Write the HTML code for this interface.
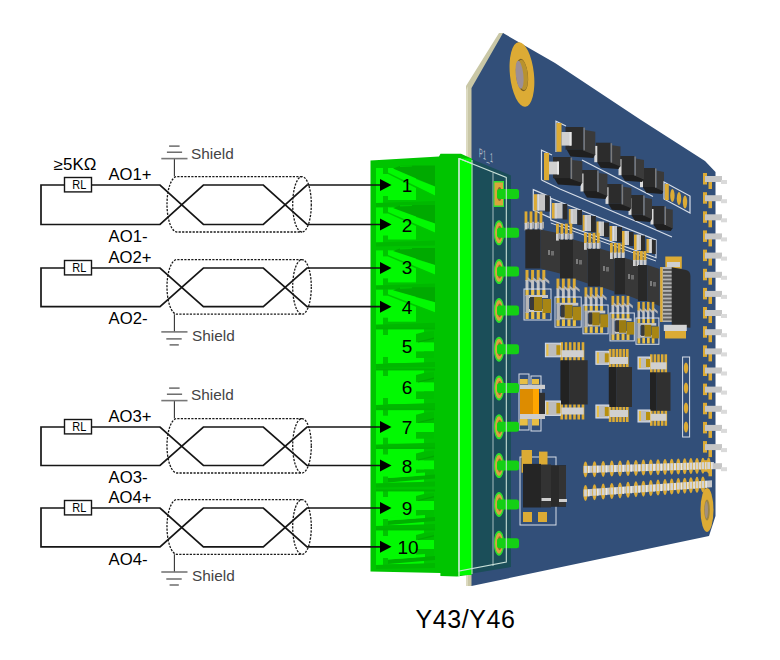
<!DOCTYPE html>
<html><head><meta charset="utf-8"><style>
html,body{margin:0;padding:0;background:#fff;}
svg{display:block;font-family:"Liberation Sans", sans-serif;}
</style></head><body>
<svg width="780" height="660" viewBox="0 0 780 660">
<rect width="780" height="660" fill="#fff"/>
<polygon points="466.0,86.0 499.0,33.0 504.0,33.0 472.0,88.0 472.0,586.0 466.0,586.0" fill="#c9c7a6" />
<polygon points="466.0,90.0 468.0,86.0 468.0,586.0 466.0,586.0" fill="#dcdac0" />
<polygon points="471.5,88.0 503.0,33.0 555.0,63.0 641.0,120.0 705.0,161.0 715.5,172.0 715.5,516.0 709.0,536.0 471.5,586.0" fill="#324f79" />
<g transform="rotate(-6 522 75)">
<ellipse cx="522.0" cy="74.5" rx="12" ry="32.5" fill="#dcab35"/>
<ellipse cx="522.0" cy="75.0" rx="6.0" ry="16.2" fill="#7a5e22"/>
<ellipse cx="522.6" cy="75.0" rx="5.2" ry="15.2" fill="#b8922e"/>
<ellipse cx="519.6" cy="74.5" rx="3.8" ry="14.0" fill="#9b8f97"/>
</g>
<ellipse cx="707.0" cy="510.0" rx="6.5" ry="22" fill="#dcab35"/>
<ellipse cx="707.0" cy="510.0" rx="2.8" ry="10.5" fill="#9a8444"/>
<ellipse cx="706.4" cy="510.0" rx="1.6" ry="8.5" fill="#a09080"/>
<rect x="703.0" y="173.0" width="4.0" height="11.5" fill="#dcab35" />
<rect x="708.5" y="177.5" width="3.5" height="11.5" fill="#dcab35" />
<rect x="705.0" y="176.0" width="17.0" height="6.0" fill="#c6c6c6" />
<rect x="721.0" y="180.0" width="6.0" height="4.0" fill="#dadada" />
<rect x="703.0" y="192.2" width="4.0" height="11.5" fill="#dcab35" />
<rect x="708.5" y="196.7" width="3.5" height="11.5" fill="#dcab35" />
<rect x="705.0" y="195.2" width="17.0" height="6.0" fill="#c6c6c6" />
<rect x="721.0" y="199.2" width="6.0" height="4.0" fill="#dadada" />
<rect x="703.0" y="211.3" width="4.0" height="11.5" fill="#dcab35" />
<rect x="708.5" y="215.8" width="3.5" height="11.5" fill="#dcab35" />
<rect x="705.0" y="214.3" width="17.0" height="6.0" fill="#c6c6c6" />
<rect x="721.0" y="218.3" width="6.0" height="4.0" fill="#dadada" />
<rect x="703.0" y="230.4" width="4.0" height="11.5" fill="#dcab35" />
<rect x="708.5" y="234.9" width="3.5" height="11.5" fill="#dcab35" />
<rect x="705.0" y="233.4" width="17.0" height="6.0" fill="#c6c6c6" />
<rect x="721.0" y="237.4" width="6.0" height="4.0" fill="#dadada" />
<rect x="703.0" y="249.6" width="4.0" height="11.5" fill="#dcab35" />
<rect x="708.5" y="254.1" width="3.5" height="11.5" fill="#dcab35" />
<rect x="705.0" y="252.6" width="17.0" height="6.0" fill="#c6c6c6" />
<rect x="721.0" y="256.6" width="6.0" height="4.0" fill="#dadada" />
<rect x="703.0" y="268.8" width="4.0" height="11.5" fill="#dcab35" />
<rect x="708.5" y="273.2" width="3.5" height="11.5" fill="#dcab35" />
<rect x="705.0" y="271.8" width="17.0" height="6.0" fill="#c6c6c6" />
<rect x="721.0" y="275.8" width="6.0" height="4.0" fill="#dadada" />
<rect x="703.0" y="287.9" width="4.0" height="11.5" fill="#dcab35" />
<rect x="708.5" y="292.4" width="3.5" height="11.5" fill="#dcab35" />
<rect x="705.0" y="290.9" width="17.0" height="6.0" fill="#c6c6c6" />
<rect x="721.0" y="294.9" width="6.0" height="4.0" fill="#dadada" />
<rect x="703.0" y="307.0" width="4.0" height="11.5" fill="#dcab35" />
<rect x="708.5" y="311.5" width="3.5" height="11.5" fill="#dcab35" />
<rect x="705.0" y="310.0" width="17.0" height="6.0" fill="#c6c6c6" />
<rect x="721.0" y="314.0" width="6.0" height="4.0" fill="#dadada" />
<rect x="703.0" y="326.2" width="4.0" height="11.5" fill="#dcab35" />
<rect x="708.5" y="330.7" width="3.5" height="11.5" fill="#dcab35" />
<rect x="705.0" y="329.2" width="17.0" height="6.0" fill="#c6c6c6" />
<rect x="721.0" y="333.2" width="6.0" height="4.0" fill="#dadada" />
<rect x="703.0" y="345.4" width="4.0" height="11.5" fill="#dcab35" />
<rect x="708.5" y="349.9" width="3.5" height="11.5" fill="#dcab35" />
<rect x="705.0" y="348.4" width="17.0" height="6.0" fill="#c6c6c6" />
<rect x="721.0" y="352.4" width="6.0" height="4.0" fill="#dadada" />
<rect x="703.0" y="364.5" width="4.0" height="11.5" fill="#dcab35" />
<rect x="708.5" y="369.0" width="3.5" height="11.5" fill="#dcab35" />
<rect x="705.0" y="367.5" width="17.0" height="6.0" fill="#c6c6c6" />
<rect x="721.0" y="371.5" width="6.0" height="4.0" fill="#dadada" />
<rect x="703.0" y="383.6" width="4.0" height="11.5" fill="#dcab35" />
<rect x="708.5" y="388.1" width="3.5" height="11.5" fill="#dcab35" />
<rect x="705.0" y="386.6" width="17.0" height="6.0" fill="#c6c6c6" />
<rect x="721.0" y="390.6" width="6.0" height="4.0" fill="#dadada" />
<rect x="703.0" y="402.8" width="4.0" height="11.5" fill="#dcab35" />
<rect x="708.5" y="407.3" width="3.5" height="11.5" fill="#dcab35" />
<rect x="705.0" y="405.8" width="17.0" height="6.0" fill="#c6c6c6" />
<rect x="721.0" y="409.8" width="6.0" height="4.0" fill="#dadada" />
<rect x="703.0" y="421.9" width="4.0" height="11.5" fill="#dcab35" />
<rect x="708.5" y="426.4" width="3.5" height="11.5" fill="#dcab35" />
<rect x="705.0" y="424.9" width="17.0" height="6.0" fill="#c6c6c6" />
<rect x="721.0" y="428.9" width="6.0" height="4.0" fill="#dadada" />
<rect x="703.0" y="441.1" width="4.0" height="11.5" fill="#dcab35" />
<rect x="708.5" y="445.6" width="3.5" height="11.5" fill="#dcab35" />
<rect x="705.0" y="444.1" width="17.0" height="6.0" fill="#c6c6c6" />
<rect x="721.0" y="448.1" width="6.0" height="4.0" fill="#dadada" />
<rect x="703.0" y="460.2" width="4.0" height="11.5" fill="#dcab35" />
<rect x="708.5" y="464.8" width="3.5" height="11.5" fill="#dcab35" />
<rect x="705.0" y="463.2" width="17.0" height="6.0" fill="#c6c6c6" />
<rect x="721.0" y="467.2" width="6.0" height="4.0" fill="#dadada" />
<polyline points="556.0,152.0 556.0,121.3 566.0,126.0" fill="none" stroke="#d7dee8" stroke-width="1.2" />
<polyline points="582.0,160.0 653.0,196.5" fill="none" stroke="#d7dee8" stroke-width="1.2" />
<polyline points="541.5,180.0 541.5,150.3 552.0,155.0" fill="none" stroke="#d7dee8" stroke-width="1.2" />
<polyline points="541.5,180.0 560.0,189.0 640.0,223.0 672.0,237.0" fill="none" stroke="#d7dee8" stroke-width="1.2" />
<rect x="556.5" y="123.0" width="5.0" height="28.8" fill="#dcab35" />
<polygon points="642.5,186.7 655.0,186.7 664.0,190.9 662.0,194.0 646.5,192.7" fill="#1f1f1f" />
<rect x="641.5" y="168.0" width="13.5" height="19.0" fill="#2c2c2c" />
<polygon points="656.5,170.6 664.0,171.9 664.0,191.4 656.5,188.3" fill="#3a3a3a" />
<rect x="655.0" y="168.5" width="1.5" height="19.2" fill="#7a7a7a" />
<rect x="640.0" y="171.1" width="3.0" height="16.1" fill="#dadada" />
<polygon points="621.0,174.7 634.4,174.7 644.0,178.9 642.0,182.0 625.0,180.7" fill="#1f1f1f" />
<rect x="620.0" y="156.0" width="14.4" height="19.0" fill="#2c2c2c" />
<polygon points="635.9,158.6 644.0,159.9 644.0,179.4 635.9,176.3" fill="#3a3a3a" />
<rect x="634.4" y="156.5" width="1.5" height="19.2" fill="#7a7a7a" />
<rect x="618.5" y="159.1" width="3.0" height="16.1" fill="#dadada" />
<polygon points="596.8,161.6 610.6,161.6 620.5,165.8 618.5,169.0 600.8,167.7" fill="#1f1f1f" />
<rect x="595.8" y="142.7" width="14.8" height="19.2" fill="#2c2c2c" />
<polygon points="612.1,145.3 620.5,146.6 620.5,166.4 612.1,163.2" fill="#3a3a3a" />
<rect x="610.6" y="143.2" width="1.5" height="19.5" fill="#7a7a7a" />
<rect x="594.3" y="145.9" width="3.0" height="16.3" fill="#dadada" />
<polygon points="566.5,149.3 583.4,149.3 595.3,154.3 593.3,158.0 570.5,156.4" fill="#1f1f1f" />
<rect x="565.5" y="127.0" width="17.9" height="22.6" fill="#2c2c2c" />
<polygon points="584.9,130.1 595.3,131.7 595.3,154.9 584.9,151.2" fill="#3a3a3a" />
<rect x="583.4" y="127.6" width="1.5" height="22.9" fill="#7a7a7a" />
<rect x="561.5" y="132.0" width="10.0" height="13.6" fill="#d0d0d0" />
<rect x="569.5" y="132.0" width="2.0" height="13.6" fill="#e6e6e6" />
<rect x="544.0" y="153.0" width="5.0" height="27.2" fill="#dcab35" />
<polygon points="653.0,224.0 664.5,224.0 672.8,228.0 670.8,231.0 657.0,229.8" fill="#1f1f1f" />
<rect x="652.0" y="206.0" width="12.5" height="18.2" fill="#2c2c2c" />
<polygon points="666.0,208.5 672.8,209.8 672.8,228.5 666.0,225.5" fill="#3a3a3a" />
<rect x="664.5" y="206.5" width="1.5" height="18.5" fill="#7a7a7a" />
<rect x="650.5" y="209.0" width="3.0" height="15.5" fill="#dadada" />
<polygon points="631.0,214.4 643.2,214.4 652.0,218.8 650.0,222.0 635.0,220.7" fill="#1f1f1f" />
<rect x="630.0" y="195.0" width="13.2" height="19.7" fill="#2c2c2c" />
<polygon points="644.7,197.7 652.0,199.1 652.0,219.3 644.7,216.1" fill="#3a3a3a" />
<rect x="643.2" y="195.5" width="1.5" height="20.0" fill="#7a7a7a" />
<rect x="628.5" y="198.2" width="3.0" height="16.7" fill="#dadada" />
<polygon points="608.0,203.4 621.6,203.4 631.4,207.8 629.4,211.0 612.0,209.7" fill="#1f1f1f" />
<rect x="607.0" y="184.0" width="14.6" height="19.7" fill="#2c2c2c" />
<polygon points="623.1,186.7 631.4,188.1 631.4,208.3 623.1,205.1" fill="#3a3a3a" />
<rect x="621.6" y="184.5" width="1.5" height="20.0" fill="#7a7a7a" />
<rect x="605.5" y="187.2" width="3.0" height="16.7" fill="#dadada" />
<polygon points="583.0,190.9 597.2,190.9 607.4,195.5 605.4,199.0 587.0,197.6" fill="#1f1f1f" />
<rect x="582.0" y="170.0" width="15.2" height="21.2" fill="#2c2c2c" />
<polygon points="598.7,172.9 607.4,174.3 607.4,196.1 598.7,192.6" fill="#3a3a3a" />
<rect x="597.2" y="170.6" width="1.5" height="21.5" fill="#7a7a7a" />
<rect x="580.5" y="173.5" width="3.0" height="18.0" fill="#dadada" />
<polygon points="554.0,177.9 570.6,177.9 582.3,182.5 580.3,186.0 558.0,184.6" fill="#1f1f1f" />
<rect x="553.0" y="157.0" width="17.6" height="21.2" fill="#2c2c2c" />
<polygon points="572.1,159.9 582.3,161.3 582.3,183.1 572.1,179.6" fill="#3a3a3a" />
<rect x="570.6" y="157.6" width="1.5" height="21.5" fill="#7a7a7a" />
<rect x="549.0" y="161.6" width="10.0" height="12.8" fill="#d0d0d0" />
<rect x="557.0" y="161.6" width="2.0" height="12.8" fill="#e6e6e6" />
<polygon points="664,182 690,196 690,213 664,199" fill="none" stroke="#d7dee8" stroke-width="1.2"/>
<rect x="664.8" y="184.0" width="4.0" height="16.0" fill="#dcab35" />
<ellipse cx="672.4" cy="195.5" rx="2.2" ry="6.5" fill="#dcab35"/>
<ellipse cx="679.0" cy="198.5" rx="2.2" ry="6.5" fill="#dcab35"/>
<ellipse cx="685.0" cy="202.0" rx="2.2" ry="6.5" fill="#dcab35"/>
<polygon points="533.3,189.6 550.3,197 550.3,217.8 533.3,210" fill="none" stroke="#d7dee8" stroke-width="1.2"/>
<rect x="533.8" y="194.2" width="3.6" height="16.4" fill="#dcab35" />
<rect x="536.9" y="194.2" width="8.2" height="16.4" fill="#c6c6c6" />
<rect x="537.9" y="194.2" width="1.0" height="16.4" fill="#dedede" />
<rect x="545.1" y="195.2" width="4.6" height="16.4" fill="#2c2c2c" />
<polygon points="550.8,198.3 656,240 656,257.7 550.8,220" fill="none" stroke="#d7dee8" stroke-width="1.2"/>
<polyline points="550.8,223.0 656.0,261.0" fill="none" stroke="#d7dee8" stroke-width="1" />
<rect x="552.0" y="203.0" width="3.0" height="15.5" fill="#dcab35" />
<rect x="554.5" y="203.0" width="8.2" height="15.5" fill="#c6c6c6" />
<rect x="555.5" y="203.0" width="1.0" height="15.5" fill="#dedede" />
<rect x="562.7" y="204.0" width="4.6" height="15.5" fill="#2c2c2c" />
<rect x="568.8" y="209.0" width="2.2" height="15.0" fill="#dcab35" />
<rect x="570.5" y="209.0" width="6.8" height="15.0" fill="#c6c6c6" />
<rect x="571.5" y="209.0" width="1.0" height="15.0" fill="#dedede" />
<rect x="577.3" y="210.0" width="4.7" height="15.0" fill="#2c2c2c" />
<rect x="582.7" y="215.0" width="2.3" height="16.0" fill="#dcab35" />
<rect x="584.5" y="215.0" width="6.5" height="16.0" fill="#c6c6c6" />
<rect x="585.5" y="215.0" width="1.0" height="16.0" fill="#dedede" />
<rect x="591.0" y="216.0" width="4.8" height="16.0" fill="#2c2c2c" />
<rect x="596.5" y="221.5" width="2.5" height="14.5" fill="#dcab35" />
<rect x="598.5" y="221.5" width="5.5" height="14.5" fill="#c6c6c6" />
<rect x="599.5" y="221.5" width="1.0" height="14.5" fill="#dedede" />
<rect x="604.0" y="222.5" width="5.0" height="14.5" fill="#2c2c2c" />
<rect x="609.6" y="226.0" width="2.9" height="15.0" fill="#dcab35" />
<rect x="612.0" y="226.0" width="5.0" height="15.0" fill="#c6c6c6" />
<rect x="613.0" y="226.0" width="1.0" height="15.0" fill="#dedede" />
<rect x="617.0" y="227.0" width="5.0" height="15.0" fill="#2c2c2c" />
<rect x="622.0" y="231.0" width="3.0" height="14.0" fill="#dcab35" />
<rect x="624.5" y="231.0" width="4.5" height="14.0" fill="#c6c6c6" />
<rect x="625.5" y="231.0" width="1.0" height="14.0" fill="#dedede" />
<rect x="629.0" y="232.0" width="4.5" height="14.0" fill="#2c2c2c" />
<rect x="634.0" y="234.6" width="3.0" height="15.4" fill="#dcab35" />
<rect x="636.5" y="234.6" width="4.5" height="15.4" fill="#c6c6c6" />
<rect x="637.5" y="234.6" width="1.0" height="15.4" fill="#dedede" />
<rect x="641.0" y="235.6" width="4.0" height="15.4" fill="#2c2c2c" />
<rect x="646.5" y="239.0" width="2.8" height="14.0" fill="#dcab35" />
<rect x="648.8" y="239.0" width="3.2" height="14.0" fill="#c6c6c6" />
<rect x="649.8" y="239.0" width="1.0" height="14.0" fill="#dedede" />
<rect x="652.0" y="240.0" width="3.8" height="14.0" fill="#2c2c2c" />
<rect x="524.6" y="211.4" width="2.8" height="12.3" fill="#dcab35" />
<rect x="524.6" y="222.8" width="2.8" height="7.6" fill="#cfcfcf" />
<rect x="527.0" y="221.8" width="2.0" height="6.7" fill="#a9a9a9" />
<rect x="529.6" y="211.4" width="2.8" height="12.3" fill="#dcab35" />
<rect x="529.6" y="222.8" width="2.8" height="7.6" fill="#cfcfcf" />
<rect x="532.0" y="221.8" width="2.0" height="6.7" fill="#a9a9a9" />
<rect x="534.6" y="211.4" width="2.8" height="12.3" fill="#dcab35" />
<rect x="534.6" y="222.8" width="2.8" height="7.6" fill="#cfcfcf" />
<rect x="537.0" y="221.8" width="2.0" height="6.7" fill="#a9a9a9" />
<rect x="539.6" y="211.4" width="2.8" height="12.3" fill="#dcab35" />
<rect x="539.6" y="222.8" width="2.8" height="7.6" fill="#cfcfcf" />
<rect x="542.0" y="221.8" width="2.0" height="6.7" fill="#a9a9a9" />
<rect x="525.3" y="229.4" width="15.3" height="39.1" fill="#282828" />
<polygon points="540.6,229.4 560.0,233.4 560.0,273.5 540.6,268.5" fill="#383838" />
<rect x="556.0" y="223.6" width="2.8" height="11.1" fill="#dcab35" />
<rect x="556.0" y="233.8" width="2.8" height="6.8" fill="#cfcfcf" />
<rect x="558.4" y="232.9" width="1.5" height="6.0" fill="#a9a9a9" />
<rect x="560.5" y="223.6" width="2.8" height="11.1" fill="#dcab35" />
<rect x="560.5" y="233.8" width="2.8" height="6.8" fill="#cfcfcf" />
<rect x="562.9" y="232.9" width="1.5" height="6.0" fill="#a9a9a9" />
<rect x="565.0" y="223.6" width="2.8" height="11.1" fill="#dcab35" />
<rect x="565.0" y="233.8" width="2.8" height="6.8" fill="#cfcfcf" />
<rect x="567.4" y="232.9" width="1.5" height="6.0" fill="#a9a9a9" />
<rect x="569.5" y="223.6" width="2.8" height="11.1" fill="#dcab35" />
<rect x="569.5" y="233.8" width="2.8" height="6.8" fill="#cfcfcf" />
<rect x="571.9" y="232.9" width="1.5" height="6.0" fill="#a9a9a9" />
<rect x="560.0" y="239.6" width="13.0" height="38.9" fill="#282828" />
<polygon points="573.0,239.6 587.8,243.6 587.8,283.5 573.0,278.5" fill="#383838" />
<rect x="584.0" y="232.8" width="2.8" height="11.1" fill="#dcab35" />
<rect x="584.0" y="243.0" width="2.8" height="6.8" fill="#cfcfcf" />
<rect x="586.4" y="242.2" width="1.3" height="6.0" fill="#a9a9a9" />
<rect x="588.3" y="232.8" width="2.8" height="11.1" fill="#dcab35" />
<rect x="588.3" y="243.0" width="2.8" height="6.8" fill="#cfcfcf" />
<rect x="590.7" y="242.2" width="1.3" height="6.0" fill="#a9a9a9" />
<rect x="592.6" y="232.8" width="2.8" height="11.1" fill="#dcab35" />
<rect x="592.6" y="243.0" width="2.8" height="6.8" fill="#cfcfcf" />
<rect x="595.0" y="242.2" width="1.3" height="6.0" fill="#a9a9a9" />
<rect x="596.9" y="232.8" width="2.8" height="11.1" fill="#dcab35" />
<rect x="596.9" y="243.0" width="2.8" height="6.8" fill="#cfcfcf" />
<rect x="599.3" y="242.2" width="1.3" height="6.0" fill="#a9a9a9" />
<rect x="587.8" y="248.8" width="12.2" height="37.7" fill="#282828" />
<polygon points="600.0,248.8 614.5,252.8 614.5,291.5 600.0,286.5" fill="#383838" />
<rect x="610.0" y="243.0" width="2.8" height="10.4" fill="#dcab35" />
<rect x="610.0" y="252.6" width="2.8" height="6.4" fill="#cfcfcf" />
<rect x="612.4" y="251.8" width="0.9" height="5.6" fill="#a9a9a9" />
<rect x="613.9" y="243.0" width="2.8" height="10.4" fill="#dcab35" />
<rect x="613.9" y="252.6" width="2.8" height="6.4" fill="#cfcfcf" />
<rect x="616.3" y="251.8" width="0.9" height="5.6" fill="#a9a9a9" />
<rect x="617.8" y="243.0" width="2.8" height="10.4" fill="#dcab35" />
<rect x="617.8" y="252.6" width="2.8" height="6.4" fill="#cfcfcf" />
<rect x="620.2" y="251.8" width="0.9" height="5.6" fill="#a9a9a9" />
<rect x="621.7" y="243.0" width="2.8" height="10.4" fill="#dcab35" />
<rect x="621.7" y="252.6" width="2.8" height="6.4" fill="#cfcfcf" />
<rect x="624.1" y="251.8" width="0.9" height="5.6" fill="#a9a9a9" />
<rect x="614.5" y="258.0" width="10.5" height="36.5" fill="#282828" />
<polygon points="625.0,258.0 638.0,262.0 638.0,299.5 625.0,294.5" fill="#383838" />
<rect x="633.0" y="251.0" width="2.8" height="9.8" fill="#dcab35" />
<rect x="633.0" y="260.0" width="2.8" height="6.0" fill="#cfcfcf" />
<rect x="635.4" y="259.2" width="0.5" height="5.2" fill="#a9a9a9" />
<rect x="636.5" y="251.0" width="2.8" height="9.8" fill="#dcab35" />
<rect x="636.5" y="260.0" width="2.8" height="6.0" fill="#cfcfcf" />
<rect x="638.9" y="259.2" width="0.5" height="5.2" fill="#a9a9a9" />
<rect x="640.0" y="251.0" width="2.8" height="9.8" fill="#dcab35" />
<rect x="640.0" y="260.0" width="2.8" height="6.0" fill="#cfcfcf" />
<rect x="642.4" y="259.2" width="0.5" height="5.2" fill="#a9a9a9" />
<rect x="643.5" y="251.0" width="2.8" height="9.8" fill="#dcab35" />
<rect x="643.5" y="260.0" width="2.8" height="6.0" fill="#cfcfcf" />
<rect x="645.9" y="259.2" width="0.5" height="5.2" fill="#a9a9a9" />
<rect x="638.0" y="265.0" width="9.5" height="36.0" fill="#282828" />
<polygon points="647.5,265.0 659.6,269.0 659.6,306.0 647.5,301.0" fill="#383838" />
<rect x="548.0" y="250.0" width="2.0" height="5.0" fill="#7c7c7c" />
<rect x="551.0" y="251.0" width="3.0" height="4.5" fill="#6e6e6e" />
<rect x="576.0" y="259.0" width="2.0" height="5.0" fill="#7c7c7c" />
<rect x="579.0" y="260.0" width="3.0" height="4.5" fill="#6e6e6e" />
<rect x="603.0" y="266.0" width="2.0" height="5.0" fill="#7c7c7c" />
<rect x="606.0" y="267.0" width="3.0" height="4.5" fill="#6e6e6e" />
<rect x="628.0" y="274.0" width="2.0" height="5.0" fill="#7c7c7c" />
<rect x="631.0" y="275.0" width="3.0" height="4.5" fill="#6e6e6e" />
<rect x="650.0" y="281.0" width="2.0" height="5.0" fill="#7c7c7c" />
<rect x="653.0" y="282.0" width="3.0" height="4.5" fill="#6e6e6e" />
<rect x="525.5" y="270.0" width="3.0" height="11.0" fill="#dcab35" />
<rect x="525.5" y="280.0" width="3.0" height="10.0" fill="#c4c4c4" />
<polygon points="527.5,277.0 532.5,281.0 532.5,284.0 527.5,280.0" fill="#b4b4b4" />
<rect x="531.1" y="270.0" width="3.0" height="11.0" fill="#dcab35" />
<rect x="531.1" y="280.0" width="3.0" height="10.0" fill="#c4c4c4" />
<polygon points="533.1,277.0 538.1,281.0 538.1,284.0 533.1,280.0" fill="#b4b4b4" />
<rect x="536.7" y="270.0" width="3.0" height="11.0" fill="#dcab35" />
<rect x="536.7" y="280.0" width="3.0" height="10.0" fill="#c4c4c4" />
<polygon points="538.7,277.0 543.7,281.0 543.7,284.0 538.7,280.0" fill="#b4b4b4" />
<rect x="542.3" y="270.0" width="3.0" height="11.0" fill="#dcab35" />
<rect x="542.3" y="280.0" width="3.0" height="10.0" fill="#c4c4c4" />
<polygon points="544.3,277.0 549.3,281.0 549.3,284.0 544.3,280.0" fill="#b4b4b4" />
<rect x="524.0" y="289.0" width="27.0" height="31.0" fill="none" stroke="#d7dee8" stroke-width="1"/>
<rect x="525.5" y="290.0" width="3.2" height="6.0" fill="#e8bf45" />
<rect x="525.5" y="312.0" width="3.2" height="7.0" fill="#e8bf45" />
<rect x="531.1" y="290.0" width="3.2" height="6.0" fill="#e8bf45" />
<rect x="531.1" y="312.0" width="3.2" height="7.0" fill="#e8bf45" />
<rect x="536.7" y="290.0" width="3.2" height="6.0" fill="#e8bf45" />
<rect x="536.7" y="312.0" width="3.2" height="7.0" fill="#e8bf45" />
<rect x="542.3" y="290.0" width="3.2" height="6.0" fill="#e8bf45" />
<rect x="542.3" y="312.0" width="3.2" height="7.0" fill="#e8bf45" />
<rect x="525.5" y="295.0" width="3.5" height="18.0" fill="#b5b5b5" />
<rect x="529.0" y="295.0" width="19.0" height="3.0" fill="#c8c8c8" />
<rect x="529.0" y="309.0" width="19.0" height="3.0" fill="#c8c8c8" />
<rect x="530.0" y="297.0" width="4.0" height="13.0" fill="#3a3a3a" />
<rect x="534.0" y="297.0" width="8.0" height="14.0" fill="#9b7c12" />
<rect x="542.5" y="299.0" width="8.5" height="14.0" fill="#a88614" />
<rect x="556.5" y="278.6" width="2.9" height="10.7" fill="#dcab35" />
<rect x="556.5" y="288.3" width="2.9" height="9.7" fill="#c4c4c4" />
<polygon points="558.5,285.4 563.3,289.2 563.3,292.1 558.5,288.3" fill="#b4b4b4" />
<rect x="561.9" y="278.6" width="2.9" height="10.7" fill="#dcab35" />
<rect x="561.9" y="288.3" width="2.9" height="9.7" fill="#c4c4c4" />
<polygon points="563.9,285.4 568.7,289.2 568.7,292.1 563.9,288.3" fill="#b4b4b4" />
<rect x="567.4" y="278.6" width="2.9" height="10.7" fill="#dcab35" />
<rect x="567.4" y="288.3" width="2.9" height="9.7" fill="#c4c4c4" />
<polygon points="569.4,285.4 574.2,289.2 574.2,292.1 569.4,288.3" fill="#b4b4b4" />
<rect x="572.8" y="278.6" width="2.9" height="10.7" fill="#dcab35" />
<rect x="572.8" y="288.3" width="2.9" height="9.7" fill="#c4c4c4" />
<polygon points="574.8,285.4 579.6,289.2 579.6,292.1 574.8,288.3" fill="#b4b4b4" />
<rect x="555.0" y="297.0" width="26.2" height="30.1" fill="none" stroke="#d7dee8" stroke-width="1"/>
<rect x="556.5" y="298.0" width="3.1" height="5.8" fill="#e8bf45" />
<rect x="556.5" y="319.3" width="3.1" height="6.8" fill="#e8bf45" />
<rect x="561.9" y="298.0" width="3.1" height="5.8" fill="#e8bf45" />
<rect x="561.9" y="319.3" width="3.1" height="6.8" fill="#e8bf45" />
<rect x="567.4" y="298.0" width="3.1" height="5.8" fill="#e8bf45" />
<rect x="567.4" y="319.3" width="3.1" height="6.8" fill="#e8bf45" />
<rect x="572.8" y="298.0" width="3.1" height="5.8" fill="#e8bf45" />
<rect x="572.8" y="319.3" width="3.1" height="6.8" fill="#e8bf45" />
<rect x="556.5" y="302.8" width="3.4" height="17.5" fill="#b5b5b5" />
<rect x="559.9" y="302.8" width="18.4" height="2.9" fill="#c8c8c8" />
<rect x="559.9" y="316.4" width="18.4" height="2.9" fill="#c8c8c8" />
<rect x="560.8" y="304.8" width="3.9" height="12.6" fill="#3a3a3a" />
<rect x="564.7" y="304.8" width="7.8" height="13.6" fill="#9b7c12" />
<rect x="572.9" y="306.7" width="8.2" height="13.6" fill="#a88614" />
<rect x="584.5" y="287.3" width="2.8" height="10.2" fill="#dcab35" />
<rect x="584.5" y="296.6" width="2.8" height="9.4" fill="#c4c4c4" />
<polygon points="586.5,293.8 591.0,297.6 591.0,300.4 586.5,296.6" fill="#b4b4b4" />
<rect x="589.7" y="287.3" width="2.8" height="10.2" fill="#dcab35" />
<rect x="589.7" y="296.6" width="2.8" height="9.4" fill="#c4c4c4" />
<polygon points="591.7,293.8 596.2,297.6 596.2,300.4 591.7,296.6" fill="#b4b4b4" />
<rect x="594.9" y="287.3" width="2.8" height="10.2" fill="#dcab35" />
<rect x="594.9" y="296.6" width="2.8" height="9.4" fill="#c4c4c4" />
<polygon points="596.9,293.8 601.4,297.6 601.4,300.4 596.9,296.6" fill="#b4b4b4" />
<rect x="600.1" y="287.3" width="2.8" height="10.2" fill="#dcab35" />
<rect x="600.1" y="296.6" width="2.8" height="9.4" fill="#c4c4c4" />
<polygon points="602.1,293.8 606.6,297.6 606.6,300.4 602.1,296.6" fill="#b4b4b4" />
<rect x="583.0" y="305.0" width="25.1" height="28.8" fill="none" stroke="#d7dee8" stroke-width="1"/>
<rect x="584.5" y="306.0" width="3.0" height="5.5" fill="#e8bf45" />
<rect x="584.5" y="326.4" width="3.0" height="6.5" fill="#e8bf45" />
<rect x="589.7" y="306.0" width="3.0" height="5.5" fill="#e8bf45" />
<rect x="589.7" y="326.4" width="3.0" height="6.5" fill="#e8bf45" />
<rect x="594.9" y="306.0" width="3.0" height="5.5" fill="#e8bf45" />
<rect x="594.9" y="326.4" width="3.0" height="6.5" fill="#e8bf45" />
<rect x="600.1" y="306.0" width="3.0" height="5.5" fill="#e8bf45" />
<rect x="600.1" y="326.4" width="3.0" height="6.5" fill="#e8bf45" />
<rect x="584.4" y="310.6" width="3.3" height="16.7" fill="#b5b5b5" />
<rect x="587.6" y="310.6" width="17.7" height="2.8" fill="#c8c8c8" />
<rect x="587.6" y="323.6" width="17.7" height="2.8" fill="#c8c8c8" />
<rect x="588.6" y="312.4" width="3.7" height="12.1" fill="#3a3a3a" />
<rect x="592.3" y="312.4" width="7.4" height="13.0" fill="#9b7c12" />
<rect x="600.2" y="314.3" width="7.9" height="13.0" fill="#a88614" />
<rect x="611.5" y="295.9" width="2.7" height="9.9" fill="#dcab35" />
<rect x="611.5" y="304.9" width="2.7" height="9.1" fill="#c4c4c4" />
<polygon points="613.5,302.2 617.8,305.8 617.8,308.5 613.5,304.9" fill="#b4b4b4" />
<rect x="616.5" y="295.9" width="2.7" height="9.9" fill="#dcab35" />
<rect x="616.5" y="304.9" width="2.7" height="9.1" fill="#c4c4c4" />
<polygon points="618.5,302.2 622.8,305.8 622.8,308.5 618.5,304.9" fill="#b4b4b4" />
<rect x="621.6" y="295.9" width="2.7" height="9.9" fill="#dcab35" />
<rect x="621.6" y="304.9" width="2.7" height="9.1" fill="#c4c4c4" />
<polygon points="623.6,302.2 627.9,305.8 627.9,308.5 623.6,304.9" fill="#b4b4b4" />
<rect x="626.6" y="295.9" width="2.7" height="9.9" fill="#dcab35" />
<rect x="626.6" y="304.9" width="2.7" height="9.1" fill="#c4c4c4" />
<polygon points="628.6,302.2 632.9,305.8 632.9,308.5 628.6,304.9" fill="#b4b4b4" />
<rect x="610.0" y="313.0" width="24.3" height="27.9" fill="none" stroke="#d7dee8" stroke-width="1"/>
<rect x="611.5" y="314.0" width="2.9" height="5.3" fill="#e8bf45" />
<rect x="611.5" y="333.7" width="2.9" height="6.3" fill="#e8bf45" />
<rect x="616.5" y="314.0" width="2.9" height="5.3" fill="#e8bf45" />
<rect x="616.5" y="333.7" width="2.9" height="6.3" fill="#e8bf45" />
<rect x="621.6" y="314.0" width="2.9" height="5.3" fill="#e8bf45" />
<rect x="621.6" y="333.7" width="2.9" height="6.3" fill="#e8bf45" />
<rect x="626.6" y="314.0" width="2.9" height="5.3" fill="#e8bf45" />
<rect x="626.6" y="333.7" width="2.9" height="6.3" fill="#e8bf45" />
<rect x="611.4" y="318.4" width="3.1" height="16.2" fill="#b5b5b5" />
<rect x="614.5" y="318.4" width="17.1" height="2.7" fill="#c8c8c8" />
<rect x="614.5" y="331.0" width="17.1" height="2.7" fill="#c8c8c8" />
<rect x="615.4" y="320.2" width="3.6" height="11.7" fill="#3a3a3a" />
<rect x="619.0" y="320.2" width="7.2" height="12.6" fill="#9b7c12" />
<rect x="626.6" y="322.0" width="7.6" height="12.6" fill="#a88614" />
<rect x="637.5" y="301.9" width="2.5" height="9.3" fill="#dcab35" />
<rect x="637.5" y="310.4" width="2.5" height="8.6" fill="#c4c4c4" />
<polygon points="639.5,307.8 643.5,311.2 643.5,313.8 639.5,310.4" fill="#b4b4b4" />
<rect x="642.3" y="301.9" width="2.5" height="9.3" fill="#dcab35" />
<rect x="642.3" y="310.4" width="2.5" height="8.6" fill="#c4c4c4" />
<polygon points="644.3,307.8 648.2,311.2 648.2,313.8 644.3,310.4" fill="#b4b4b4" />
<rect x="647.0" y="301.9" width="2.5" height="9.3" fill="#dcab35" />
<rect x="647.0" y="310.4" width="2.5" height="8.6" fill="#c4c4c4" />
<polygon points="649.0,307.8 653.0,311.2 653.0,313.8 649.0,310.4" fill="#b4b4b4" />
<rect x="651.8" y="301.9" width="2.5" height="9.3" fill="#dcab35" />
<rect x="651.8" y="310.4" width="2.5" height="8.6" fill="#c4c4c4" />
<polygon points="653.8,307.8 657.7,311.2 657.7,313.8 653.8,310.4" fill="#b4b4b4" />
<rect x="636.0" y="318.0" width="22.9" height="26.3" fill="none" stroke="#d7dee8" stroke-width="1"/>
<rect x="637.5" y="319.0" width="2.7" height="4.9" fill="#e8bf45" />
<rect x="637.5" y="337.6" width="2.7" height="5.9" fill="#e8bf45" />
<rect x="642.3" y="319.0" width="2.7" height="4.9" fill="#e8bf45" />
<rect x="642.3" y="337.6" width="2.7" height="5.9" fill="#e8bf45" />
<rect x="647.0" y="319.0" width="2.7" height="4.9" fill="#e8bf45" />
<rect x="647.0" y="337.6" width="2.7" height="5.9" fill="#e8bf45" />
<rect x="651.8" y="319.0" width="2.7" height="4.9" fill="#e8bf45" />
<rect x="651.8" y="337.6" width="2.7" height="5.9" fill="#e8bf45" />
<rect x="637.3" y="323.1" width="3.0" height="15.3" fill="#b5b5b5" />
<rect x="640.2" y="323.1" width="16.1" height="2.5" fill="#c8c8c8" />
<rect x="640.2" y="335.0" width="16.1" height="2.6" fill="#c8c8c8" />
<rect x="641.1" y="324.8" width="3.4" height="11.1" fill="#3a3a3a" />
<rect x="644.5" y="324.8" width="6.8" height="11.9" fill="#9b7c12" />
<rect x="651.7" y="326.5" width="7.2" height="11.9" fill="#a88614" />
<rect x="665.3" y="256.5" width="16.5" height="12.2" fill="#dcab35" />
<rect x="667.0" y="262.0" width="13.0" height="5.0" fill="#cfcfcf" />
<rect x="660.2" y="267.0" width="11.8" height="55.0" fill="#b4b4b4" />
<rect x="660.2" y="267.0" width="2.3" height="55.0" fill="#dcab35" />
<rect x="663.0" y="269.0" width="9.0" height="2.0" fill="#5e5e5e" />
<rect x="663.0" y="272.8" width="9.0" height="2.0" fill="#5e5e5e" />
<rect x="663.0" y="276.6" width="9.0" height="2.0" fill="#5e5e5e" />
<rect x="663.0" y="280.4" width="9.0" height="2.0" fill="#5e5e5e" />
<rect x="663.0" y="284.2" width="9.0" height="2.0" fill="#5e5e5e" />
<rect x="663.0" y="288.0" width="9.0" height="2.0" fill="#5e5e5e" />
<rect x="663.0" y="291.8" width="9.0" height="2.0" fill="#5e5e5e" />
<rect x="663.0" y="295.6" width="9.0" height="2.0" fill="#5e5e5e" />
<rect x="663.0" y="299.4" width="9.0" height="2.0" fill="#5e5e5e" />
<rect x="663.0" y="303.2" width="9.0" height="2.0" fill="#5e5e5e" />
<rect x="663.0" y="307.0" width="9.0" height="2.0" fill="#5e5e5e" />
<rect x="663.0" y="310.8" width="9.0" height="2.0" fill="#5e5e5e" />
<rect x="663.0" y="314.6" width="9.0" height="2.0" fill="#5e5e5e" />
<rect x="663.0" y="318.4" width="9.0" height="2.0" fill="#5e5e5e" />
<path d="M671.7,267.3 L686,270 Q690.4,271 690.4,276 L690.4,327.7 L671.7,326.3 Z" fill="#2c2c2c"/>
<rect x="663.8" y="324.8" width="23.0" height="6.2" fill="#d4d4d4" />
<rect x="665.0" y="331.0" width="21.0" height="7.5" fill="#dcab35" />
<rect x="560.4" y="342.2" width="2.6" height="19.0" fill="#dcab35" />
<rect x="560.4" y="403.5" width="2.6" height="16.0" fill="#dcab35" />
<rect x="564.7" y="342.2" width="2.6" height="19.0" fill="#dcab35" />
<rect x="564.7" y="403.5" width="2.6" height="16.0" fill="#dcab35" />
<rect x="568.9" y="342.2" width="2.6" height="19.0" fill="#dcab35" />
<rect x="568.9" y="403.5" width="2.6" height="16.0" fill="#dcab35" />
<rect x="573.2" y="342.2" width="2.6" height="19.0" fill="#dcab35" />
<rect x="573.2" y="403.5" width="2.6" height="16.0" fill="#dcab35" />
<rect x="577.4" y="342.2" width="2.6" height="19.0" fill="#dcab35" />
<rect x="577.4" y="403.5" width="2.6" height="16.0" fill="#dcab35" />
<rect x="581.7" y="342.2" width="2.6" height="19.0" fill="#dcab35" />
<rect x="581.7" y="403.5" width="2.6" height="16.0" fill="#dcab35" />
<rect x="561.4" y="350.2" width="22.3" height="7.0" fill="#d0d0d0" />
<rect x="561.4" y="407.5" width="22.3" height="7.0" fill="#d0d0d0" />
<rect x="560.4" y="360.2" width="8.7" height="44.3" fill="#222222" />
<rect x="569.1" y="360.2" width="18.6" height="44.3" fill="#303030" />
<rect x="608.8" y="349.0" width="2.6" height="19.0" fill="#dcab35" />
<rect x="608.8" y="406.0" width="2.6" height="16.0" fill="#dcab35" />
<rect x="612.2" y="349.0" width="2.6" height="19.0" fill="#dcab35" />
<rect x="612.2" y="406.0" width="2.6" height="16.0" fill="#dcab35" />
<rect x="615.7" y="349.0" width="2.6" height="19.0" fill="#dcab35" />
<rect x="615.7" y="406.0" width="2.6" height="16.0" fill="#dcab35" />
<rect x="619.1" y="349.0" width="2.6" height="19.0" fill="#dcab35" />
<rect x="619.1" y="406.0" width="2.6" height="16.0" fill="#dcab35" />
<rect x="622.6" y="349.0" width="2.6" height="19.0" fill="#dcab35" />
<rect x="622.6" y="406.0" width="2.6" height="16.0" fill="#dcab35" />
<rect x="626.0" y="349.0" width="2.6" height="19.0" fill="#dcab35" />
<rect x="626.0" y="406.0" width="2.6" height="16.0" fill="#dcab35" />
<rect x="609.8" y="357.0" width="18.2" height="7.0" fill="#d0d0d0" />
<rect x="609.8" y="410.0" width="18.2" height="7.0" fill="#d0d0d0" />
<rect x="608.8" y="367.0" width="7.4" height="40.0" fill="#222222" />
<rect x="616.2" y="367.0" width="15.8" height="40.0" fill="#303030" />
<rect x="650.0" y="354.3" width="2.6" height="19.0" fill="#dcab35" />
<rect x="650.0" y="409.8" width="2.6" height="16.0" fill="#dcab35" />
<rect x="653.6" y="354.3" width="2.6" height="19.0" fill="#dcab35" />
<rect x="653.6" y="409.8" width="2.6" height="16.0" fill="#dcab35" />
<rect x="657.2" y="354.3" width="2.6" height="19.0" fill="#dcab35" />
<rect x="657.2" y="409.8" width="2.6" height="16.0" fill="#dcab35" />
<rect x="660.9" y="354.3" width="2.6" height="19.0" fill="#dcab35" />
<rect x="660.9" y="409.8" width="2.6" height="16.0" fill="#dcab35" />
<rect x="664.5" y="354.3" width="2.6" height="19.0" fill="#dcab35" />
<rect x="664.5" y="409.8" width="2.6" height="16.0" fill="#dcab35" />
<rect x="651.0" y="362.3" width="15.5" height="7.0" fill="#d0d0d0" />
<rect x="651.0" y="413.8" width="15.5" height="7.0" fill="#d0d0d0" />
<rect x="650.0" y="372.3" width="6.6" height="38.5" fill="#222222" />
<rect x="656.6" y="372.3" width="13.9" height="38.5" fill="#303030" />
<rect x="545.4" y="343.2" width="15.0" height="13.6" fill="#bcbcbc" stroke="#d7dee8" stroke-width="1"/>
<rect x="556.4" y="345.2" width="4.0" height="9.6" fill="#b8900e" />
<rect x="546.4" y="344.2" width="2.0" height="11.6" fill="#e8bf45" />
<rect x="545.4" y="401.0" width="15.0" height="14.4" fill="#bcbcbc" stroke="#d7dee8" stroke-width="1"/>
<rect x="556.4" y="403.0" width="4.0" height="10.4" fill="#b8900e" />
<rect x="546.4" y="402.0" width="2.0" height="12.4" fill="#e8bf45" />
<rect x="595.9" y="351.3" width="12.9" height="13.0" fill="#bcbcbc" stroke="#d7dee8" stroke-width="1"/>
<rect x="604.8" y="353.3" width="4.0" height="9.0" fill="#b8900e" />
<rect x="596.9" y="352.3" width="2.0" height="11.0" fill="#e8bf45" />
<rect x="595.9" y="405.0" width="12.9" height="13.0" fill="#bcbcbc" stroke="#d7dee8" stroke-width="1"/>
<rect x="604.8" y="407.0" width="4.0" height="9.0" fill="#b8900e" />
<rect x="596.9" y="406.0" width="2.0" height="11.0" fill="#e8bf45" />
<rect x="638.0" y="357.0" width="12.0" height="12.0" fill="#bcbcbc" stroke="#d7dee8" stroke-width="1"/>
<rect x="646.0" y="359.0" width="4.0" height="8.0" fill="#b8900e" />
<rect x="639.0" y="358.0" width="2.0" height="10.0" fill="#e8bf45" />
<rect x="638.0" y="410.0" width="12.0" height="12.0" fill="#bcbcbc" stroke="#d7dee8" stroke-width="1"/>
<rect x="646.0" y="412.0" width="4.0" height="8.0" fill="#b8900e" />
<rect x="639.0" y="411.0" width="2.0" height="10.0" fill="#e8bf45" />
<rect x="682.6" y="357" width="7" height="80" fill="none" stroke="#d7dee8" stroke-width="1"/>
<ellipse cx="686.0" cy="368.0" rx="2.2" ry="5.5" fill="#dcab35"/>
<ellipse cx="686.0" cy="388.0" rx="2.2" ry="5.5" fill="#dcab35"/>
<ellipse cx="686.0" cy="408.0" rx="2.2" ry="5.5" fill="#dcab35"/>
<ellipse cx="686.0" cy="427.0" rx="2.2" ry="5.5" fill="#dcab35"/>
<rect x="519" y="374" width="10" height="56" fill="none" stroke="#d7dee8" stroke-width="1"/>
<rect x="531" y="376" width="10" height="55" fill="none" stroke="#d7dee8" stroke-width="1"/>
<rect x="519.8" y="379.0" width="8.0" height="5.3" fill="#e8bf45" />
<rect x="532.0" y="379.0" width="7.0" height="5.3" fill="#e8bf45" />
<rect x="520.0" y="384.8" width="25.0" height="4.2" fill="#cdcdcd" />
<rect x="520.0" y="389.0" width="13.0" height="25.0" fill="#dd8c00" />
<rect x="533.0" y="389.0" width="6.0" height="25.0" fill="#ffa600" />
<rect x="539.0" y="392.8" width="6.0" height="22.2" fill="#2f2f2f" />
<rect x="520.0" y="414.0" width="25.0" height="5.0" fill="#cdcdcd" />
<rect x="519.8" y="419.0" width="8.0" height="6.5" fill="#e8bf45" />
<rect x="532.0" y="419.0" width="7.0" height="6.5" fill="#e8bf45" />
<rect x="520" y="457" width="36" height="68" fill="none" stroke="#d7dee8" stroke-width="1"/>
<rect x="521.5" y="450.0" width="10.5" height="22.7" fill="#dcab35" />
<rect x="539.0" y="451.6" width="8.5" height="17.4" fill="#dcab35" />
<rect x="523.0" y="463.9" width="18.0" height="43.6" fill="#252525" />
<rect x="541.0" y="464.5" width="10.0" height="43.0" fill="#333333" />
<rect x="551.0" y="465.2" width="15.0" height="41.6" fill="#2a2a2a" />
<rect x="559.0" y="466.0" width="7.0" height="40.0" fill="#333" />
<rect x="541.5" y="498.0" width="9.5" height="3.0" fill="#cfcfcf" />
<rect x="559.0" y="499.0" width="8.0" height="3.0" fill="#cfcfcf" />
<rect x="523.0" y="512.0" width="9.0" height="10.0" fill="#dcab35" />
<rect x="538.0" y="512.0" width="9.0" height="10.0" fill="#dcab35" />
<polygon points="583.5,466.0 714,461.9 714,468.9 583.5,473.0" fill="#c8c8c8"/>
<ellipse cx="585.5" cy="469.4" rx="2.2" ry="8.0" fill="#dcab35"/>
<rect x="584.1" y="465.9" width="2.8" height="7.0" fill="#d4d4d4" />
<rect x="588.0" y="465.9" width="1.5" height="7.0" fill="#e8e8e8" />
<ellipse cx="594.5" cy="469.2" rx="2.2" ry="8.0" fill="#dcab35"/>
<rect x="593.1" y="465.7" width="2.8" height="7.0" fill="#d4d4d4" />
<rect x="597.0" y="465.7" width="1.5" height="7.0" fill="#e8e8e8" />
<ellipse cx="603.2" cy="468.9" rx="2.2" ry="8.0" fill="#dcab35"/>
<rect x="601.8" y="465.4" width="2.8" height="7.0" fill="#d4d4d4" />
<rect x="605.7" y="465.4" width="1.5" height="7.0" fill="#e8e8e8" />
<ellipse cx="611.8" cy="468.6" rx="2.2" ry="8.0" fill="#dcab35"/>
<rect x="610.4" y="465.1" width="2.8" height="7.0" fill="#d4d4d4" />
<rect x="614.3" y="465.1" width="1.5" height="7.0" fill="#e8e8e8" />
<ellipse cx="620.0" cy="468.4" rx="2.2" ry="8.0" fill="#dcab35"/>
<rect x="618.6" y="464.9" width="2.8" height="7.0" fill="#d4d4d4" />
<rect x="622.5" y="464.9" width="1.5" height="7.0" fill="#e8e8e8" />
<ellipse cx="628.0" cy="468.1" rx="2.2" ry="8.0" fill="#dcab35"/>
<rect x="626.6" y="464.6" width="2.8" height="7.0" fill="#d4d4d4" />
<rect x="630.5" y="464.6" width="1.5" height="7.0" fill="#e8e8e8" />
<ellipse cx="635.9" cy="467.9" rx="2.2" ry="8.0" fill="#dcab35"/>
<rect x="634.5" y="464.4" width="2.8" height="7.0" fill="#d4d4d4" />
<rect x="638.4" y="464.4" width="1.5" height="7.0" fill="#e8e8e8" />
<ellipse cx="643.4" cy="467.6" rx="2.2" ry="8.0" fill="#dcab35"/>
<rect x="642.0" y="464.1" width="2.8" height="7.0" fill="#d4d4d4" />
<rect x="645.9" y="464.1" width="1.5" height="7.0" fill="#e8e8e8" />
<ellipse cx="650.8" cy="467.4" rx="2.2" ry="8.0" fill="#dcab35"/>
<rect x="649.4" y="463.9" width="2.8" height="7.0" fill="#d4d4d4" />
<rect x="653.3" y="463.9" width="1.5" height="7.0" fill="#e8e8e8" />
<ellipse cx="658.0" cy="467.2" rx="2.2" ry="8.0" fill="#dcab35"/>
<rect x="656.6" y="463.7" width="2.8" height="7.0" fill="#d4d4d4" />
<rect x="660.5" y="463.7" width="1.5" height="7.0" fill="#e8e8e8" />
<ellipse cx="665.0" cy="466.9" rx="2.2" ry="8.0" fill="#dcab35"/>
<rect x="663.6" y="463.4" width="2.8" height="7.0" fill="#d4d4d4" />
<rect x="667.5" y="463.4" width="1.5" height="7.0" fill="#e8e8e8" />
<ellipse cx="671.7" cy="466.7" rx="2.2" ry="8.0" fill="#dcab35"/>
<rect x="670.3" y="463.2" width="2.8" height="7.0" fill="#d4d4d4" />
<rect x="674.2" y="463.2" width="1.5" height="7.0" fill="#e8e8e8" />
<ellipse cx="678.3" cy="466.5" rx="2.2" ry="8.0" fill="#dcab35"/>
<rect x="676.9" y="463.0" width="2.8" height="7.0" fill="#d4d4d4" />
<rect x="680.8" y="463.0" width="1.5" height="7.0" fill="#e8e8e8" />
<ellipse cx="684.7" cy="466.3" rx="2.2" ry="8.0" fill="#dcab35"/>
<rect x="683.3" y="462.8" width="2.8" height="7.0" fill="#d4d4d4" />
<rect x="687.2" y="462.8" width="1.5" height="7.0" fill="#e8e8e8" />
<ellipse cx="690.9" cy="466.1" rx="2.2" ry="8.0" fill="#dcab35"/>
<rect x="689.5" y="462.6" width="2.8" height="7.0" fill="#d4d4d4" />
<rect x="693.4" y="462.6" width="1.5" height="7.0" fill="#e8e8e8" />
<ellipse cx="697.0" cy="465.9" rx="2.2" ry="8.0" fill="#dcab35"/>
<rect x="695.6" y="462.4" width="2.8" height="7.0" fill="#d4d4d4" />
<rect x="699.5" y="462.4" width="1.5" height="7.0" fill="#e8e8e8" />
<ellipse cx="702.9" cy="465.7" rx="2.2" ry="8.0" fill="#dcab35"/>
<rect x="701.5" y="462.2" width="2.8" height="7.0" fill="#d4d4d4" />
<rect x="705.4" y="462.2" width="1.5" height="7.0" fill="#e8e8e8" />
<ellipse cx="708.6" cy="465.6" rx="2.2" ry="8.0" fill="#dcab35"/>
<rect x="707.2" y="462.1" width="2.8" height="7.0" fill="#d4d4d4" />
<rect x="711.1" y="462.1" width="1.5" height="7.0" fill="#e8e8e8" />
<polygon points="583.5,489.5 712,480.2 712,487.2 583.5,496.5" fill="#c8c8c8"/>
<ellipse cx="585.5" cy="492.9" rx="2.2" ry="8.0" fill="#dcab35"/>
<rect x="584.1" y="489.4" width="2.8" height="7.0" fill="#d4d4d4" />
<rect x="588.0" y="489.4" width="1.5" height="7.0" fill="#e8e8e8" />
<ellipse cx="594.5" cy="492.2" rx="2.2" ry="8.0" fill="#dcab35"/>
<rect x="593.1" y="488.7" width="2.8" height="7.0" fill="#d4d4d4" />
<rect x="597.0" y="488.7" width="1.5" height="7.0" fill="#e8e8e8" />
<ellipse cx="603.2" cy="491.6" rx="2.2" ry="8.0" fill="#dcab35"/>
<rect x="601.8" y="488.1" width="2.8" height="7.0" fill="#d4d4d4" />
<rect x="605.7" y="488.1" width="1.5" height="7.0" fill="#e8e8e8" />
<ellipse cx="611.8" cy="491.0" rx="2.2" ry="8.0" fill="#dcab35"/>
<rect x="610.4" y="487.5" width="2.8" height="7.0" fill="#d4d4d4" />
<rect x="614.3" y="487.5" width="1.5" height="7.0" fill="#e8e8e8" />
<ellipse cx="620.0" cy="490.4" rx="2.2" ry="8.0" fill="#dcab35"/>
<rect x="618.6" y="486.9" width="2.8" height="7.0" fill="#d4d4d4" />
<rect x="622.5" y="486.9" width="1.5" height="7.0" fill="#e8e8e8" />
<ellipse cx="628.0" cy="489.8" rx="2.2" ry="8.0" fill="#dcab35"/>
<rect x="626.6" y="486.3" width="2.8" height="7.0" fill="#d4d4d4" />
<rect x="630.5" y="486.3" width="1.5" height="7.0" fill="#e8e8e8" />
<ellipse cx="635.9" cy="489.2" rx="2.2" ry="8.0" fill="#dcab35"/>
<rect x="634.5" y="485.7" width="2.8" height="7.0" fill="#d4d4d4" />
<rect x="638.4" y="485.7" width="1.5" height="7.0" fill="#e8e8e8" />
<ellipse cx="643.4" cy="488.7" rx="2.2" ry="8.0" fill="#dcab35"/>
<rect x="642.0" y="485.2" width="2.8" height="7.0" fill="#d4d4d4" />
<rect x="645.9" y="485.2" width="1.5" height="7.0" fill="#e8e8e8" />
<ellipse cx="650.8" cy="488.1" rx="2.2" ry="8.0" fill="#dcab35"/>
<rect x="649.4" y="484.6" width="2.8" height="7.0" fill="#d4d4d4" />
<rect x="653.3" y="484.6" width="1.5" height="7.0" fill="#e8e8e8" />
<ellipse cx="658.0" cy="487.6" rx="2.2" ry="8.0" fill="#dcab35"/>
<rect x="656.6" y="484.1" width="2.8" height="7.0" fill="#d4d4d4" />
<rect x="660.5" y="484.1" width="1.5" height="7.0" fill="#e8e8e8" />
<ellipse cx="665.0" cy="487.1" rx="2.2" ry="8.0" fill="#dcab35"/>
<rect x="663.6" y="483.6" width="2.8" height="7.0" fill="#d4d4d4" />
<rect x="667.5" y="483.6" width="1.5" height="7.0" fill="#e8e8e8" />
<ellipse cx="671.7" cy="486.6" rx="2.2" ry="8.0" fill="#dcab35"/>
<rect x="670.3" y="483.1" width="2.8" height="7.0" fill="#d4d4d4" />
<rect x="674.2" y="483.1" width="1.5" height="7.0" fill="#e8e8e8" />
<ellipse cx="678.3" cy="486.1" rx="2.2" ry="8.0" fill="#dcab35"/>
<rect x="676.9" y="482.6" width="2.8" height="7.0" fill="#d4d4d4" />
<rect x="680.8" y="482.6" width="1.5" height="7.0" fill="#e8e8e8" />
<ellipse cx="684.7" cy="485.7" rx="2.2" ry="8.0" fill="#dcab35"/>
<rect x="683.3" y="482.2" width="2.8" height="7.0" fill="#d4d4d4" />
<rect x="687.2" y="482.2" width="1.5" height="7.0" fill="#e8e8e8" />
<ellipse cx="690.9" cy="485.2" rx="2.2" ry="8.0" fill="#dcab35"/>
<rect x="689.5" y="481.7" width="2.8" height="7.0" fill="#d4d4d4" />
<rect x="693.4" y="481.7" width="1.5" height="7.0" fill="#e8e8e8" />
<ellipse cx="697.0" cy="484.8" rx="2.2" ry="8.0" fill="#dcab35"/>
<rect x="695.6" y="481.3" width="2.8" height="7.0" fill="#d4d4d4" />
<rect x="699.5" y="481.3" width="1.5" height="7.0" fill="#e8e8e8" />
<ellipse cx="702.9" cy="484.4" rx="2.2" ry="8.0" fill="#dcab35"/>
<rect x="701.5" y="480.9" width="2.8" height="7.0" fill="#d4d4d4" />
<rect x="705.4" y="480.9" width="1.5" height="7.0" fill="#e8e8e8" />
<polygon points="471.4,159.0 511.0,175.4 511.0,567.0 472.0,573.5" fill="#1b4e59" />
<line x1="493" y1="172.8" x2="493" y2="566" stroke="#a8bcc0" stroke-width="1"/>
<rect x="493.5" y="181.0" width="10.5" height="26.0" fill="#33dd33" />
<rect x="494.5" y="182.5" width="8.5" height="23.0" fill="#d9a63c" />
<ellipse cx="499.5" cy="194.0" rx="2.5" ry="7" fill="#8a6a30"/>
<rect x="497" y="189.0" width="22" height="10" rx="2.5" fill="#14d014"/>
<ellipse cx="499.0" cy="232.8" rx="5.2" ry="12.5" fill="#2ee02e"/>
<ellipse cx="499.0" cy="232.8" rx="3.9" ry="10.5" fill="#d8a440"/>
<ellipse cx="499.6" cy="232.8" rx="2.1" ry="7" fill="#9a6a30"/>
<rect x="497" y="227.8" width="22" height="10" rx="2.5" fill="#14d014"/>
<ellipse cx="499.0" cy="271.6" rx="5.2" ry="12.5" fill="#2ee02e"/>
<ellipse cx="499.0" cy="271.6" rx="3.9" ry="10.5" fill="#d8a440"/>
<ellipse cx="499.6" cy="271.6" rx="2.1" ry="7" fill="#9a6a30"/>
<rect x="497" y="266.6" width="22" height="10" rx="2.5" fill="#14d014"/>
<ellipse cx="499.0" cy="310.4" rx="5.2" ry="12.5" fill="#2ee02e"/>
<ellipse cx="499.0" cy="310.4" rx="3.9" ry="10.5" fill="#d8a440"/>
<ellipse cx="499.6" cy="310.4" rx="2.1" ry="7" fill="#9a6a30"/>
<rect x="497" y="305.4" width="22" height="10" rx="2.5" fill="#14d014"/>
<ellipse cx="499.0" cy="349.2" rx="5.2" ry="12.5" fill="#2ee02e"/>
<ellipse cx="499.0" cy="349.2" rx="3.9" ry="10.5" fill="#d8a440"/>
<ellipse cx="499.6" cy="349.2" rx="2.1" ry="7" fill="#9a6a30"/>
<rect x="497" y="344.2" width="22" height="10" rx="2.5" fill="#14d014"/>
<ellipse cx="499.0" cy="388.0" rx="5.2" ry="12.5" fill="#2ee02e"/>
<ellipse cx="499.0" cy="388.0" rx="3.9" ry="10.5" fill="#d8a440"/>
<ellipse cx="499.6" cy="388.0" rx="2.1" ry="7" fill="#9a6a30"/>
<rect x="497" y="383.0" width="22" height="10" rx="2.5" fill="#14d014"/>
<ellipse cx="499.0" cy="426.8" rx="5.2" ry="12.5" fill="#2ee02e"/>
<ellipse cx="499.0" cy="426.8" rx="3.9" ry="10.5" fill="#d8a440"/>
<ellipse cx="499.6" cy="426.8" rx="2.1" ry="7" fill="#9a6a30"/>
<rect x="497" y="421.8" width="22" height="10" rx="2.5" fill="#14d014"/>
<ellipse cx="499.0" cy="465.6" rx="5.2" ry="12.5" fill="#2ee02e"/>
<ellipse cx="499.0" cy="465.6" rx="3.9" ry="10.5" fill="#d8a440"/>
<ellipse cx="499.6" cy="465.6" rx="2.1" ry="7" fill="#9a6a30"/>
<rect x="497" y="460.6" width="22" height="10" rx="2.5" fill="#14d014"/>
<ellipse cx="499.0" cy="504.4" rx="5.2" ry="12.5" fill="#2ee02e"/>
<ellipse cx="499.0" cy="504.4" rx="3.9" ry="10.5" fill="#d8a440"/>
<ellipse cx="499.6" cy="504.4" rx="2.1" ry="7" fill="#9a6a30"/>
<rect x="497" y="499.4" width="22" height="10" rx="2.5" fill="#14d014"/>
<ellipse cx="499.0" cy="543.2" rx="5.2" ry="12.5" fill="#2ee02e"/>
<ellipse cx="499.0" cy="543.2" rx="3.9" ry="10.5" fill="#d8a440"/>
<ellipse cx="499.6" cy="543.2" rx="2.1" ry="7" fill="#9a6a30"/>
<rect x="497" y="538.2" width="22" height="10" rx="2.5" fill="#14d014"/>
<polygon points="370.5,160.5 439.0,156.5 440.5,153.7 461.0,153.7 471.5,158.5 471.5,574.6 457.0,576.5 440.4,576.0 440.4,573.0 370.5,571.5" fill="#00c400" />
<rect x="460.0" y="158.5" width="11.5" height="416.5" fill="#00fa00" />
<line x1="459" y1="158" x2="459" y2="576" stroke="#88f088" stroke-width="2"/>
<line x1="472" y1="160" x2="472" y2="574" stroke="#a8eaa8" stroke-width="1.2"/>
<line x1="459" y1="158.5" x2="472" y2="163.5" stroke="#c8f0c8" stroke-width="1.2"/>
<rect x="376.0" y="168.0" width="7.0" height="35.0" fill="#02f902" />
<rect x="388.0" y="168.0" width="28.0" height="32.0" fill="#02f902" />
<rect x="383.0" y="174.0" width="5.0" height="22.0" fill="#02f902" />
<polygon points="393.0,168.5 401.0,165.5 435.0,165.5 435.0,186.5" fill="#00aa00" />
<polygon points="400.0,165.5 412.0,165.5 412.0,166.5 400.0,167.0" fill="#00c800" />
<polygon points="388.0,168.0 435.0,186.5 435.0,196.0 388.0,173.0" fill="#02f902" />
<polygon points="388.0,172.5 435.0,195.5 435.0,197.5 388.0,174.0" fill="#00c600" />
<polygon points="376.0,203.0 435.0,201.0 435.0,206.0 376.0,207.0" fill="#00b800" />
<rect x="376.0" y="207.5" width="7.0" height="35.0" fill="#02f902" />
<rect x="388.0" y="207.5" width="28.0" height="32.0" fill="#02f902" />
<rect x="383.0" y="213.5" width="5.0" height="22.0" fill="#02f902" />
<polygon points="393.0,208.0 401.0,205.0 435.0,205.0 435.0,223.5" fill="#00aa00" />
<polygon points="400.0,205.0 412.0,205.0 412.0,206.0 400.0,206.5" fill="#00c800" />
<polygon points="388.0,207.5 435.0,223.5 435.0,233.0 388.0,212.5" fill="#02f902" />
<polygon points="388.0,212.0 435.0,232.5 435.0,234.5 388.0,213.5" fill="#00c600" />
<polygon points="376.0,242.5 435.0,240.5 435.0,245.5 376.0,246.5" fill="#00b800" />
<rect x="376.0" y="250.4" width="7.0" height="35.0" fill="#02f902" />
<rect x="388.0" y="250.4" width="28.0" height="32.0" fill="#02f902" />
<rect x="383.0" y="256.4" width="5.0" height="22.0" fill="#02f902" />
<polygon points="393.0,250.9 401.0,247.9 435.0,247.9 435.0,264.9" fill="#00aa00" />
<polygon points="400.0,247.9 412.0,247.9 412.0,248.9 400.0,249.4" fill="#00c800" />
<polygon points="388.0,250.4 435.0,264.9 435.0,274.9 388.0,255.4" fill="#02f902" />
<polygon points="388.0,254.9 435.0,274.4 435.0,276.4 388.0,256.4" fill="#00c600" />
<polygon points="376.0,285.4 435.0,283.4 435.0,288.4 376.0,289.4" fill="#00b800" />
<rect x="376.0" y="289.7" width="7.0" height="35.0" fill="#02f902" />
<rect x="388.0" y="289.7" width="28.0" height="32.0" fill="#02f902" />
<rect x="383.0" y="295.7" width="5.0" height="22.0" fill="#02f902" />
<polygon points="393.0,290.2 401.0,287.2 435.0,287.2 435.0,302.2" fill="#00aa00" />
<polygon points="400.0,287.2 412.0,287.2 412.0,288.2 400.0,288.7" fill="#00c800" />
<polygon points="388.0,289.7 435.0,302.2 435.0,312.7 388.0,294.7" fill="#02f902" />
<polygon points="388.0,294.2 435.0,312.2 435.0,314.2 388.0,295.7" fill="#00c600" />
<polygon points="376.0,324.7 435.0,322.7 435.0,327.7 376.0,328.7" fill="#00b800" />
<rect x="376.0" y="327.5" width="59.0" height="2.0" fill="#00b400" />
<rect x="376.0" y="329.5" width="7.0" height="34.5" fill="#02f902" />
<rect x="383.0" y="335.0" width="5.0" height="22.0" fill="#02f902" />
<rect x="388.0" y="329.5" width="36.0" height="33.5" fill="#02f902" />
<polygon points="416.0,334.0 424.0,332.0 434.0,331.0 434.0,342.4 416.0,342.4" fill="#00bc00" />
<rect x="416.0" y="342.4" width="18.0" height="9.0" fill="#02f902" />
<rect x="416.0" y="351.4" width="18.0" height="6.6" fill="#00c000" />
<polygon points="418.0,341.4 434.0,337.4 434.0,338.9 418.0,342.4" fill="#00a800" />
<polygon points="376.0,364.0 435.0,362.0 435.0,367.0 376.0,368.0" fill="#00b800" />
<rect x="376.0" y="368.5" width="59.0" height="2.0" fill="#00b400" />
<rect x="376.0" y="370.5" width="7.0" height="34.5" fill="#02f902" />
<rect x="383.0" y="376.0" width="5.0" height="22.0" fill="#02f902" />
<rect x="388.0" y="370.5" width="36.0" height="33.5" fill="#02f902" />
<polygon points="416.0,375.0 424.0,373.0 434.0,372.0 434.0,382.4 416.0,382.4" fill="#00bc00" />
<rect x="416.0" y="382.4" width="18.0" height="9.0" fill="#02f902" />
<rect x="416.0" y="391.4" width="18.0" height="7.6" fill="#00c000" />
<polygon points="418.0,381.4 434.0,377.4 434.0,378.9 418.0,382.4" fill="#00a800" />
<polygon points="376.0,405.0 435.0,403.0 435.0,408.0 376.0,409.0" fill="#00b800" />
<rect x="376.0" y="408.2" width="59.0" height="2.0" fill="#00b400" />
<rect x="376.0" y="410.2" width="7.0" height="34.5" fill="#02f902" />
<rect x="383.0" y="415.7" width="5.0" height="22.0" fill="#02f902" />
<rect x="388.0" y="410.2" width="36.0" height="33.5" fill="#02f902" />
<polygon points="416.0,414.7 424.0,412.7 434.0,411.7 434.0,423.0 416.0,423.0" fill="#00bc00" />
<rect x="416.0" y="423.0" width="18.0" height="9.0" fill="#02f902" />
<rect x="416.0" y="432.0" width="18.0" height="6.7" fill="#00c000" />
<polygon points="418.0,422.0 434.0,418.0 434.0,419.5 418.0,423.0" fill="#00a800" />
<polygon points="376.0,444.7 435.0,442.7 435.0,447.7 376.0,448.7" fill="#00b800" />
<rect x="376.0" y="447.0" width="59.0" height="2.0" fill="#00b400" />
<rect x="376.0" y="449.0" width="7.0" height="34.5" fill="#02f902" />
<rect x="383.0" y="454.5" width="5.0" height="22.0" fill="#02f902" />
<rect x="388.0" y="449.0" width="36.0" height="33.5" fill="#02f902" />
<polygon points="416.0,453.5 424.0,451.5 434.0,450.5 434.0,460.5 416.0,460.5" fill="#00bc00" />
<rect x="416.0" y="460.5" width="18.0" height="9.0" fill="#02f902" />
<rect x="416.0" y="469.5" width="18.0" height="8.0" fill="#00c000" />
<polygon points="418.0,459.5 434.0,455.5 434.0,457.0 418.0,460.5" fill="#00a800" />
<polygon points="388.0,478.0 435.0,474.5 435.0,478.5 388.0,482.5" fill="#00b000" />
<polygon points="388.0,475.0 425.0,472.5 425.0,475.5 388.0,478.0" fill="#02f902" />
<polygon points="376.0,483.5 435.0,481.5 435.0,486.5 376.0,487.5" fill="#00b800" />
<rect x="376.0" y="489.5" width="59.0" height="2.0" fill="#00b400" />
<rect x="376.0" y="491.5" width="7.0" height="34.5" fill="#02f902" />
<rect x="383.0" y="497.0" width="5.0" height="22.0" fill="#02f902" />
<rect x="388.0" y="491.5" width="36.0" height="33.5" fill="#02f902" />
<polygon points="416.0,496.0 424.0,494.0 434.0,493.0 434.0,501.0 416.0,501.0" fill="#00bc00" />
<rect x="416.0" y="501.0" width="18.0" height="9.0" fill="#02f902" />
<rect x="416.0" y="510.0" width="18.0" height="10.0" fill="#00c000" />
<polygon points="418.0,500.0 434.0,496.0 434.0,497.5 418.0,501.0" fill="#00a800" />
<polygon points="388.0,520.5 435.0,517.0 435.0,521.0 388.0,525.0" fill="#00b000" />
<polygon points="388.0,517.5 425.0,515.0 425.0,518.0 388.0,520.5" fill="#02f902" />
<polygon points="376.0,526.0 435.0,524.0 435.0,529.0 376.0,530.0" fill="#00b800" />
<rect x="376.0" y="528.5" width="59.0" height="2.0" fill="#00b400" />
<rect x="376.0" y="530.5" width="7.0" height="34.5" fill="#02f902" />
<rect x="383.0" y="536.0" width="5.0" height="22.0" fill="#02f902" />
<rect x="388.0" y="530.5" width="36.0" height="33.5" fill="#02f902" />
<polygon points="416.0,535.0 424.0,533.0 434.0,532.0 434.0,540.0 416.0,540.0" fill="#00bc00" />
<rect x="416.0" y="540.0" width="18.0" height="9.0" fill="#02f902" />
<rect x="416.0" y="549.0" width="18.0" height="10.0" fill="#00c000" />
<polygon points="418.0,539.0 434.0,535.0 434.0,536.5 418.0,540.0" fill="#00a800" />
<polygon points="388.0,559.5 435.0,556.0 435.0,560.0 388.0,564.0" fill="#00b000" />
<polygon points="388.0,556.5 425.0,554.0 425.0,557.0 388.0,559.5" fill="#02f902" />
<polygon points="376.0,565.0 435.0,563.0 435.0,568.0 376.0,569.0" fill="#00b800" />
<polyline points="459.0,158.5 506.3,177.4 506.3,562.0 459.0,571.0 459.0,158.5" fill="none" stroke="#c8e0d8" stroke-width="1.1" />
<polyline points="64.5,185 41,185 41,224.5 160,224.5 203.4,185 263.3,185 307,224.5 380,224.5" stroke="#161616" stroke-width="1.7" fill="none"/>
<polyline points="91.5,185 160,185 203.4,224.5 263.3,224.5 307,185 380,185" stroke="#161616" stroke-width="1.7" fill="none"/>
<rect x="64.5" y="177.5" width="27" height="14.4" fill="#fff" stroke="#161616" stroke-width="1.4"/>
<text x="72.3" y="188.6" font-size="13" textLength="14" lengthAdjust="spacingAndGlyphs">RL</text>
<polygon points="380,179.0 380,191.0 391.5,185.0" fill="#000"/>
<polygon points="380,218.5 380,230.5 391.5,224.5" fill="#000"/>
<path d="M302,176.6 L177,176.6 A10,27.700000000000003 0 0 0 177,232.0 L302,232.0" stroke="#1a1a1a" stroke-width="1.3" fill="none" stroke-dasharray="2.2,1.3"/>
<ellipse cx="302" cy="204.3" rx="9.3" ry="27.700000000000003" stroke="#1a1a1a" stroke-width="1.3" fill="none" stroke-dasharray="2.2,1.3"/>
<text x="108.5" y="179.7" font-size="16" textLength="43" lengthAdjust="spacingAndGlyphs">AO1+</text>
<text x="108.5" y="241.8" font-size="16" textLength="39" lengthAdjust="spacingAndGlyphs">AO1-</text>
<line x1="174.4" y1="176.6" x2="174.4" y2="158.6" stroke="#333" stroke-width="1.1"/>
<line x1="161.3" y1="158.6" x2="187.5" y2="158.6" stroke="#777" stroke-width="1.6"/>
<line x1="166.9" y1="152.2" x2="182.1" y2="152.2" stroke="#555" stroke-width="1.3"/>
<line x1="169.1" y1="146.1" x2="179.6" y2="146.1" stroke="#555" stroke-width="1.3"/>
<text x="191.0" y="158.79999999999998" font-size="15.5" fill="#444" textLength="42.7" lengthAdjust="spacingAndGlyphs">Shield</text>
<polyline points="64.5,268 41,268 41,306.7 160,306.7 203.4,268 263.3,268 307,306.7 380,306.7" stroke="#161616" stroke-width="1.7" fill="none"/>
<polyline points="91.5,268 160,268 203.4,306.7 263.3,306.7 307,268 380,268" stroke="#161616" stroke-width="1.7" fill="none"/>
<rect x="64.5" y="260.5" width="27" height="14.4" fill="#fff" stroke="#161616" stroke-width="1.4"/>
<text x="72.3" y="271.6" font-size="13" textLength="14" lengthAdjust="spacingAndGlyphs">RL</text>
<polygon points="380,262.0 380,274.0 391.5,268.0" fill="#000"/>
<polygon points="380,300.7 380,312.7 391.5,306.7" fill="#000"/>
<path d="M302,259.6 L177,259.6 A10,27.299999999999983 0 0 0 177,314.2 L302,314.2" stroke="#1a1a1a" stroke-width="1.3" fill="none" stroke-dasharray="2.2,1.3"/>
<ellipse cx="302" cy="286.9" rx="9.3" ry="27.299999999999983" stroke="#1a1a1a" stroke-width="1.3" fill="none" stroke-dasharray="2.2,1.3"/>
<text x="108.5" y="262.5" font-size="16" textLength="43" lengthAdjust="spacingAndGlyphs">AO2+</text>
<text x="108.5" y="323.8" font-size="16" textLength="39" lengthAdjust="spacingAndGlyphs">AO2-</text>
<line x1="174.4" y1="314.2" x2="174.4" y2="331.9" stroke="#333" stroke-width="1.1"/>
<line x1="161.3" y1="331.9" x2="187.5" y2="331.9" stroke="#777" stroke-width="1.6"/>
<line x1="166.3" y1="338.9" x2="181.7" y2="338.9" stroke="#555" stroke-width="1.3"/>
<line x1="169.6" y1="344.9" x2="178.8" y2="344.9" stroke="#555" stroke-width="1.3"/>
<text x="192.0" y="341.2" font-size="15.5" fill="#444" textLength="42.7" lengthAdjust="spacingAndGlyphs">Shield</text>
<polyline points="64.5,427 41,427 41,465.5 160,465.5 203.4,427 263.3,427 307,465.5 380,465.5" stroke="#161616" stroke-width="1.7" fill="none"/>
<polyline points="91.5,427 160,427 203.4,465.5 263.3,465.5 307,427 380,427" stroke="#161616" stroke-width="1.7" fill="none"/>
<rect x="64.5" y="419.5" width="27" height="14.4" fill="#fff" stroke="#161616" stroke-width="1.4"/>
<text x="72.3" y="430.6" font-size="13" textLength="14" lengthAdjust="spacingAndGlyphs">RL</text>
<polygon points="380,421.0 380,433.0 391.5,427.0" fill="#000"/>
<polygon points="380,459.5 380,471.5 391.5,465.5" fill="#000"/>
<path d="M302,418.6 L177,418.6 A10,27.19999999999999 0 0 0 177,473.0 L302,473.0" stroke="#1a1a1a" stroke-width="1.3" fill="none" stroke-dasharray="2.2,1.3"/>
<ellipse cx="302" cy="445.8" rx="9.3" ry="27.19999999999999" stroke="#1a1a1a" stroke-width="1.3" fill="none" stroke-dasharray="2.2,1.3"/>
<text x="108.5" y="421.5" font-size="16" textLength="43" lengthAdjust="spacingAndGlyphs">AO3+</text>
<text x="108.5" y="482.7" font-size="16" textLength="39" lengthAdjust="spacingAndGlyphs">AO3-</text>
<line x1="174.4" y1="418.6" x2="174.4" y2="400.6" stroke="#333" stroke-width="1.1"/>
<line x1="161.3" y1="400.6" x2="187.5" y2="400.6" stroke="#777" stroke-width="1.6"/>
<line x1="166.9" y1="394.20000000000005" x2="182.1" y2="394.20000000000005" stroke="#555" stroke-width="1.3"/>
<line x1="169.1" y1="388.1" x2="179.6" y2="388.1" stroke="#555" stroke-width="1.3"/>
<text x="191.0" y="399.70000000000005" font-size="15.5" fill="#444" textLength="42.7" lengthAdjust="spacingAndGlyphs">Shield</text>
<polyline points="64.5,508 41,508 41,546.8 160,546.8 203.4,508 263.3,508 307,546.8 380,546.8" stroke="#161616" stroke-width="1.7" fill="none"/>
<polyline points="91.5,508 160,508 203.4,546.8 263.3,546.8 307,508 380,508" stroke="#161616" stroke-width="1.7" fill="none"/>
<rect x="64.5" y="500.5" width="27" height="14.4" fill="#fff" stroke="#161616" stroke-width="1.4"/>
<text x="72.3" y="511.6" font-size="13" textLength="14" lengthAdjust="spacingAndGlyphs">RL</text>
<polygon points="380,502.0 380,514.0 391.5,508.0" fill="#000"/>
<polygon points="380,540.8 380,552.8 391.5,546.8" fill="#000"/>
<path d="M302,499.6 L177,499.6 A10,27.349999999999966 0 0 0 177,554.3 L302,554.3" stroke="#1a1a1a" stroke-width="1.3" fill="none" stroke-dasharray="2.2,1.3"/>
<ellipse cx="302" cy="526.95" rx="9.3" ry="27.349999999999966" stroke="#1a1a1a" stroke-width="1.3" fill="none" stroke-dasharray="2.2,1.3"/>
<text x="108.5" y="503" font-size="16" textLength="43" lengthAdjust="spacingAndGlyphs">AO4+</text>
<text x="108.5" y="564.5" font-size="16" textLength="39" lengthAdjust="spacingAndGlyphs">AO4-</text>
<line x1="174.4" y1="554.3" x2="174.4" y2="572.0" stroke="#333" stroke-width="1.1"/>
<line x1="161.3" y1="572.0" x2="187.5" y2="572.0" stroke="#777" stroke-width="1.6"/>
<line x1="166.3" y1="579.0" x2="181.7" y2="579.0" stroke="#555" stroke-width="1.3"/>
<line x1="169.6" y1="585.0" x2="178.8" y2="585.0" stroke="#555" stroke-width="1.3"/>
<text x="192.0" y="581.3" font-size="15.5" fill="#444" textLength="42.7" lengthAdjust="spacingAndGlyphs">Shield</text>
<text x="53.8" y="170" font-size="16" textLength="42.5" lengthAdjust="spacingAndGlyphs">≥5KΩ</text>
<text x="407" y="192.0" font-size="19" text-anchor="middle">1</text>
<text x="407" y="231.5" font-size="19" text-anchor="middle">2</text>
<text x="407" y="274.4" font-size="19" text-anchor="middle">3</text>
<text x="407" y="313.7" font-size="19" text-anchor="middle">4</text>
<text x="407" y="353.0" font-size="19" text-anchor="middle">5</text>
<text x="407" y="394.0" font-size="19" text-anchor="middle">6</text>
<text x="407" y="433.7" font-size="19" text-anchor="middle">7</text>
<text x="407" y="472.5" font-size="19" text-anchor="middle">8</text>
<text x="407" y="515.0" font-size="19" text-anchor="middle">9</text>
<text x="408" y="554.0" font-size="19" text-anchor="middle">10</text>
<g transform="translate(479,157) skewY(22) scale(0.42,1)"><text x="0" y="0" font-size="13" fill="#b9c1cc" letter-spacing="1">P1_1</text></g>
<text x="465.5" y="628.3" font-size="25" text-anchor="middle" letter-spacing="0.6">Y43/Y46</text>
</svg></body></html>
